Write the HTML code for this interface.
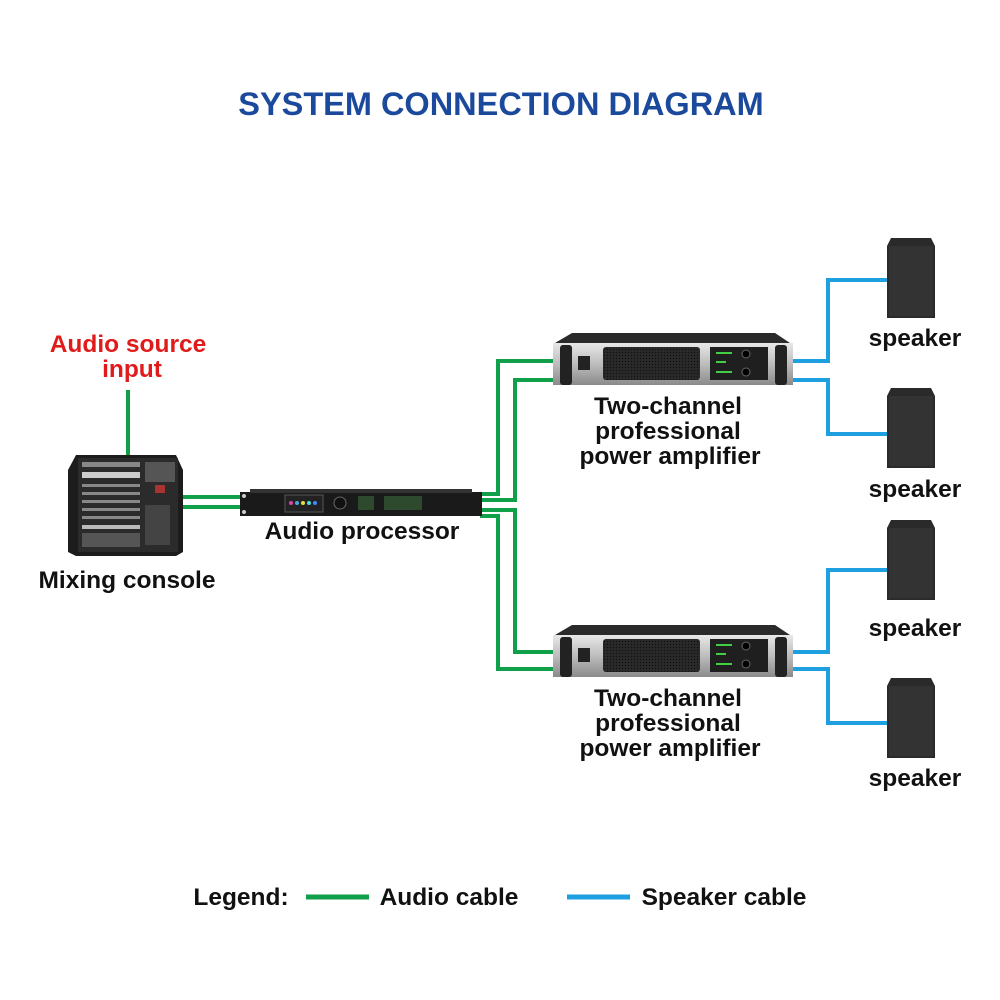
<!DOCTYPE html>
<html><head><style>
body{margin:0;background:#fff}
svg{display:block}
text{font-family:"Liberation Sans",Arial,sans-serif;font-weight:bold}
</style></head><body>
<svg width="1000" height="1000" viewBox="0 0 1000 1000" xmlns="http://www.w3.org/2000/svg">
<defs>
<linearGradient id="amp" x1="0" y1="0" x2="0" y2="1"><stop offset="0" stop-color="#e8e8e8"/><stop offset="0.5" stop-color="#bdbdbd"/><stop offset="1" stop-color="#8a8a8a"/></linearGradient>
<pattern id="mesh" width="3" height="3" patternUnits="userSpaceOnUse"><rect width="3" height="3" fill="#2a2a2a"/><circle cx="1.5" cy="1.5" r="0.7" fill="#111"/></pattern>
</defs>
<text x="501" y="115" text-anchor="middle" font-size="32.5" fill="#1b4a9c">SYSTEM CONNECTION DIAGRAM</text>

<g stroke="#10a04a" stroke-width="4" fill="none">
<line x1="128" y1="390" x2="128" y2="455"/>
<line x1="180" y1="497" x2="242" y2="497"/>
<line x1="180" y1="507" x2="242" y2="507"/>
<polyline points="480,494 498,494 498,361 555,361"/>
<polyline points="480,500 515,500 515,380 555,380"/>
<polyline points="480,510 515,510 515,652 555,652"/>
<polyline points="480,516 498,516 498,669 555,669"/>
</g>
<g stroke="#1ea0e0" stroke-width="4" fill="none">
<polyline points="790,361 828,361 828,280 888,280"/>
<polyline points="790,380 828,380 828,434 888,434"/>
<polyline points="790,652 828,652 828,570 888,570"/>
<polyline points="790,669 828,669 828,723 888,723"/>
</g>

<g>
<path d="M76,455 L176,455 L183,470 L183,552 L176,556 L76,556 L68,552 L68,470 Z" fill="#1c1c1c"/>
<rect x="78" y="458" width="100" height="94" fill="#2b2b2b"/>
<g fill="#888"><rect x="82" y="462" width="58" height="5"/><rect x="82" y="472" width="58" height="6" fill="#ccc"/><rect x="82" y="484" width="58" height="3"/><rect x="82" y="492" width="58" height="3"/><rect x="82" y="500" width="58" height="3"/><rect x="82" y="508" width="58" height="3"/><rect x="82" y="516" width="58" height="3"/><rect x="82" y="525" width="58" height="4" fill="#bbb"/><rect x="82" y="533" width="58" height="14" fill="#555"/><rect x="145" y="462" width="30" height="20" fill="#555"/><rect x="145" y="505" width="25" height="40" fill="#444"/><rect x="155" y="485" width="10" height="8" fill="#a33"/></g>
</g>

<g>
<rect x="240" y="492" width="242" height="24" fill="#1a1a1a"/>
<rect x="250" y="489" width="222" height="4" fill="#333"/>
<rect x="285" y="495" width="38" height="17" fill="#222" stroke="#555"/>
<g><circle cx="291" cy="503" r="2" fill="#d4a"/><circle cx="297" cy="503" r="2" fill="#4ad"/><circle cx="303" cy="503" r="2" fill="#dd4"/><circle cx="309" cy="503" r="2" fill="#4dd"/><circle cx="315" cy="503" r="2" fill="#48f"/></g>
<circle cx="340" cy="503" r="6" fill="#111" stroke="#666"/>
<rect x="358" y="496" width="16" height="14" fill="#2e4a2e"/>
<rect x="384" y="496" width="38" height="14" fill="#2e4a2e"/>
<circle cx="244" cy="496" r="2" fill="#ccc"/><circle cx="244" cy="512" r="2" fill="#ccc"/>
</g>

<g id="amp1">
<path d="M572,333 L775,333 L790,343 L555,343 Z" fill="#2a2a2a"/>
<rect x="553" y="343" width="240" height="42" fill="url(#amp)"/>
<rect x="560" y="345" width="12" height="40" rx="3" fill="#222"/>
<rect x="775" y="345" width="12" height="40" rx="3" fill="#222"/>
<rect x="578" y="356" width="12" height="14" fill="#222"/>
<rect x="603" y="347" width="97" height="33" rx="3" fill="url(#mesh)"/>
<rect x="710" y="347" width="58" height="33" fill="#1f1f1f"/>
<g fill="#4c4"><rect x="716" y="352" width="16" height="2"/><rect x="716" y="361" width="10" height="2"/><rect x="716" y="371" width="16" height="2"/></g>
<circle cx="746" cy="354" r="4" fill="#000" stroke="#666"/><circle cx="746" cy="372" r="4" fill="#000" stroke="#666"/>
</g>
<use href="#amp1" transform="translate(0,292)"/>

<g id="spk"><path d="M891,238 L931,238 L935,246 L935,318 L887,318 L887,246 Z" fill="#2a2a2a"/><rect x="889" y="246" width="44" height="70" fill="#333"/></g>
<use href="#spk" transform="translate(0,150)"/>
<use href="#spk" transform="translate(0,282)"/>
<use href="#spk" transform="translate(0,440)"/>

<g font-size="24.5" fill="#111" text-anchor="middle">
<text x="128" y="352" fill="#e01b1b">Audio source</text>
<text x="132" y="377" fill="#e01b1b">input</text>
<text x="127" y="588">Mixing console</text>
<text x="362" y="539">Audio processor</text>
<text x="668" y="414">Two-channel</text>
<text x="668" y="439">professional</text>
<text x="670" y="464">power amplifier</text>
<text x="668" y="706">Two-channel</text>
<text x="668" y="731">professional</text>
<text x="670" y="756">power amplifier</text>
<text x="915" y="346">speaker</text>
<text x="915" y="497">speaker</text>
<text x="915" y="636">speaker</text>
<text x="915" y="786">speaker</text>
<text x="241" y="905">Legend:</text>
<text x="449" y="905">Audio cable</text>
<text x="724" y="905">Speaker cable</text>
</g>
<line x1="306" y1="897" x2="369" y2="897" stroke="#10a04a" stroke-width="5"/>
<line x1="567" y1="897" x2="630" y2="897" stroke="#1ea0e0" stroke-width="5"/>
</svg>
</body></html>
